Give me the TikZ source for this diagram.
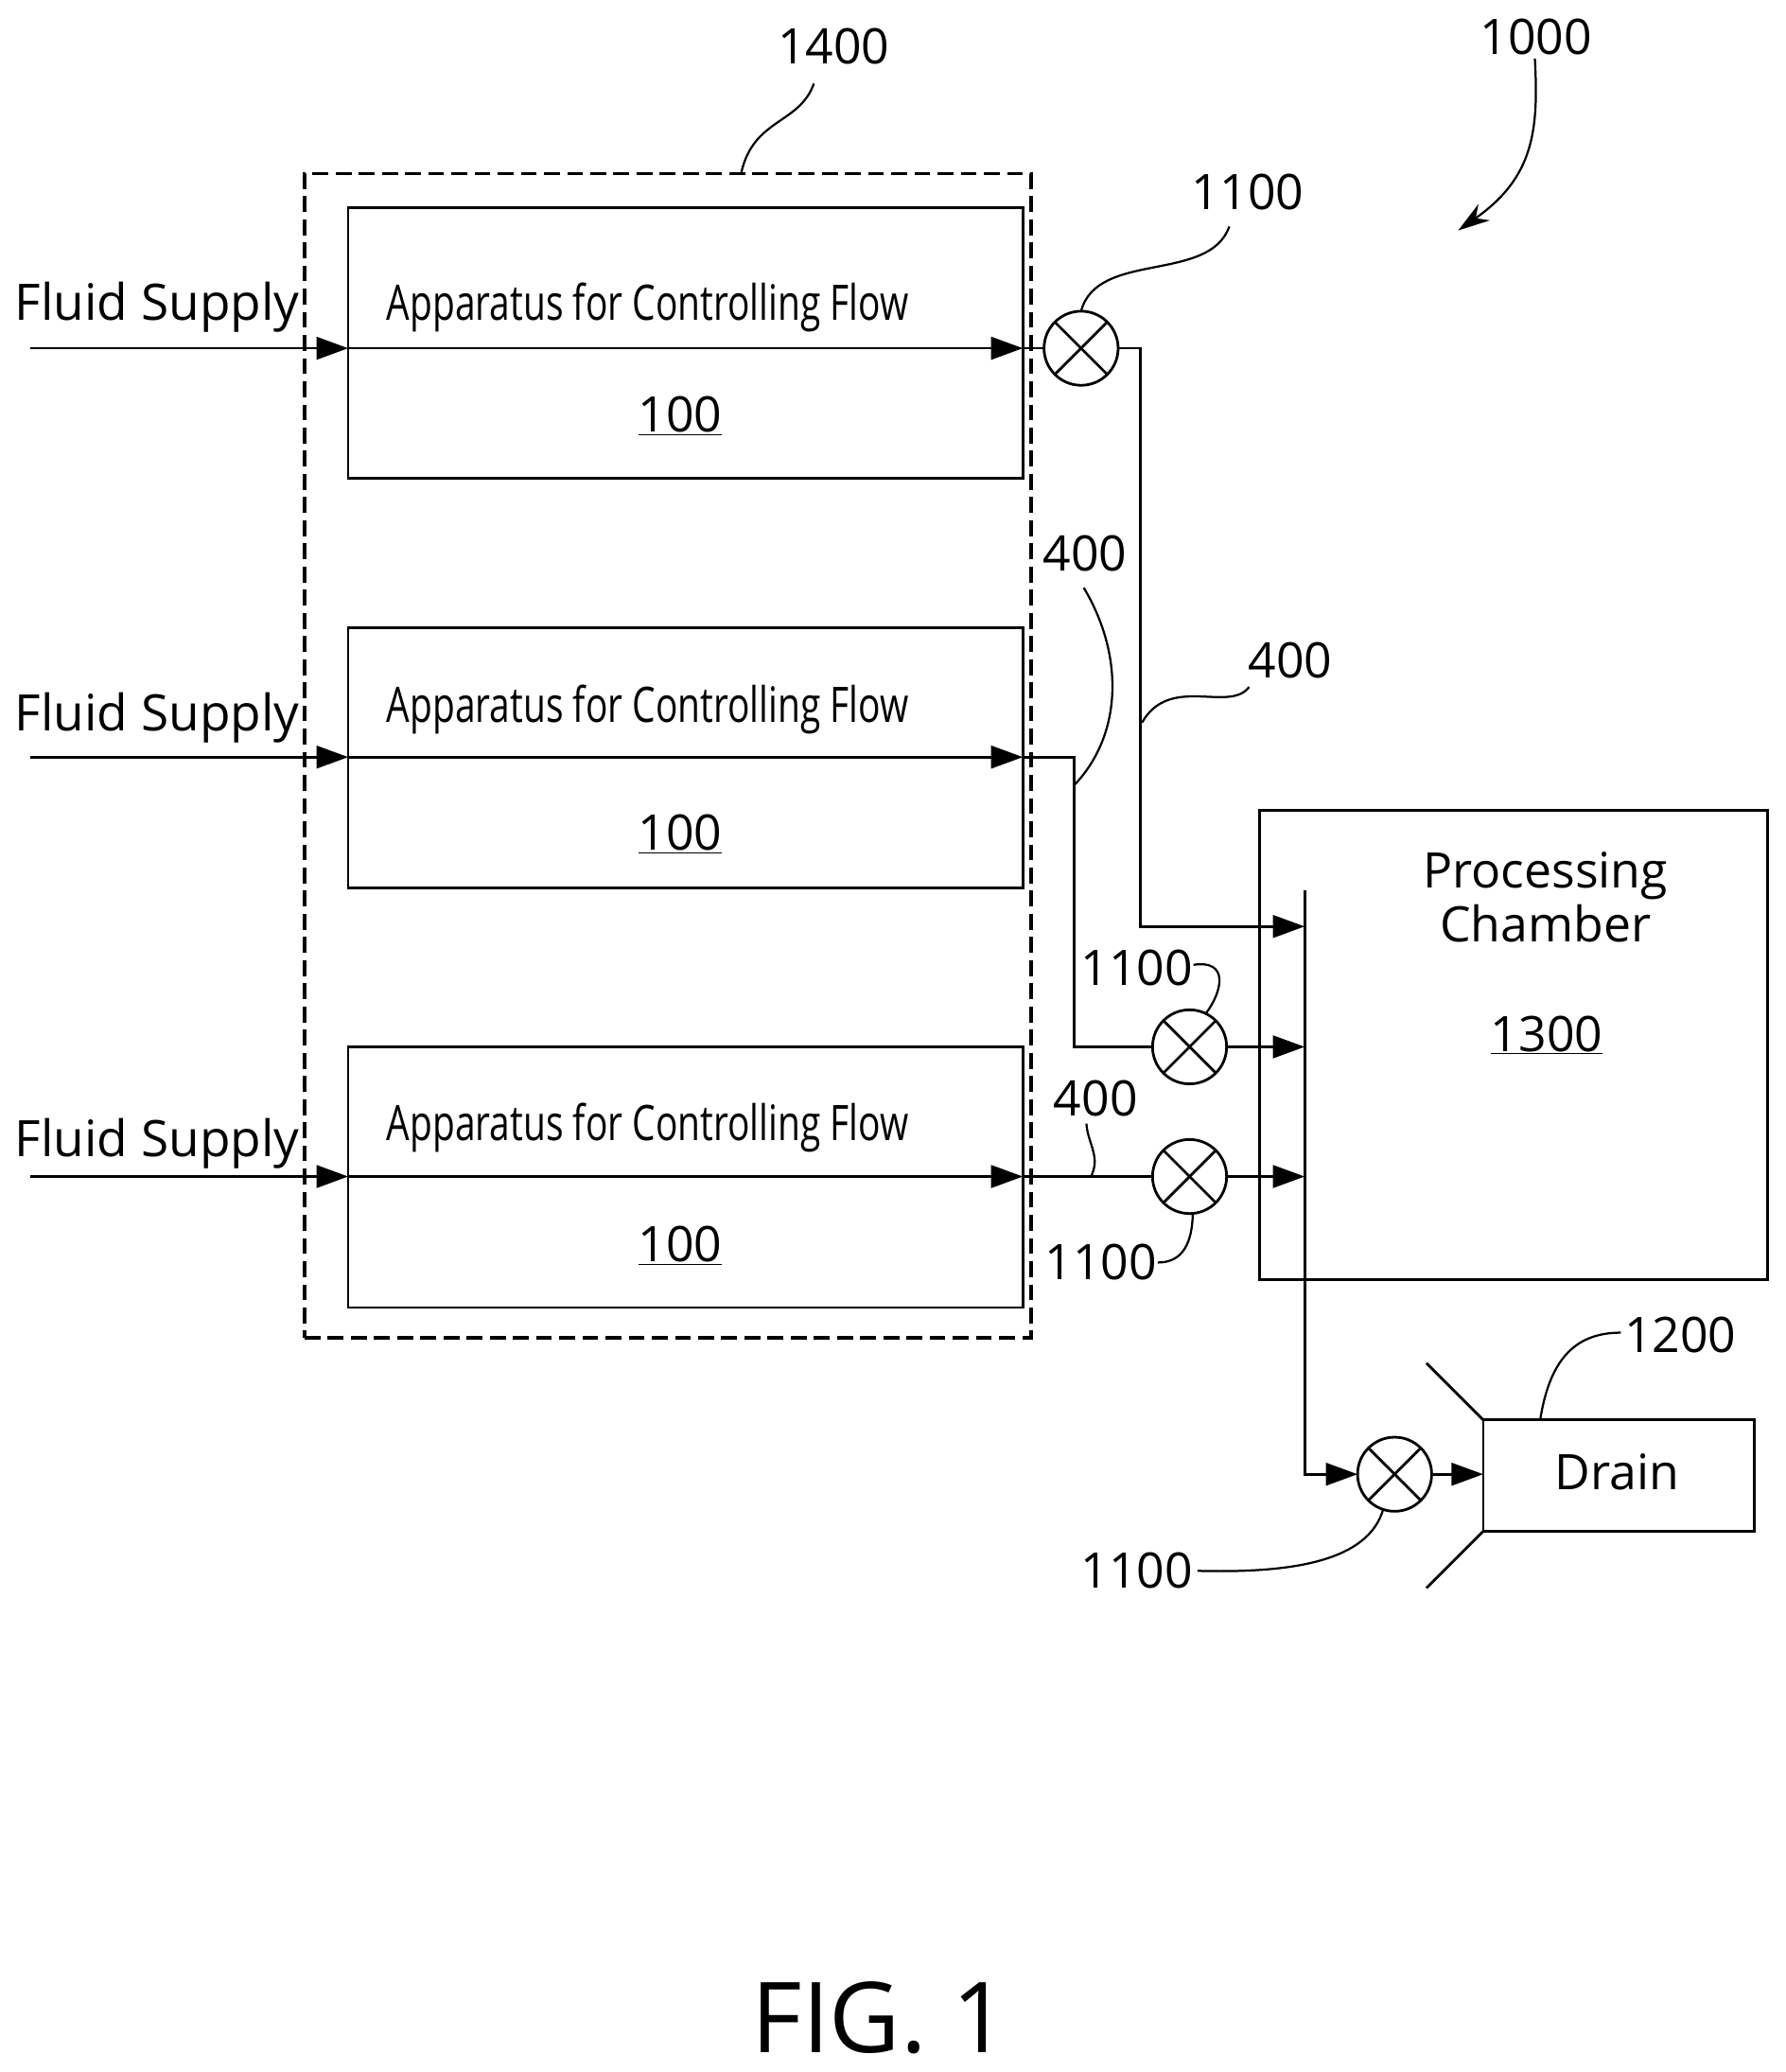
\documentclass[tikz,border=0pt]{standalone}
\usepackage{fontspec}
\setmainfont{Open Sans}
\usetikzlibrary{arrows.meta}

\tikzset{
  boxnode/.style={draw, line width=2pt, inner sep=0pt, outer sep=0pt},
  flow/.style={line width=2pt, -{Triangle[length=24pt,width=17pt]}},
  pipe/.style={line width=2pt},
  leader/.style={line width=1.6pt},
  valve/.style={circle, draw, line width=2pt, minimum size=56pt, inner sep=0pt, outer sep=0pt,
    path picture={
      \draw[line width=2pt] (path picture bounding box.north west) -- (path picture bounding box.south east);
      \draw[line width=2pt] (path picture bounding box.north east) -- (path picture bounding box.south west);
    }},
  numlabel/.style={font=\fontsize{37}{37}\selectfont, inner sep=0pt},
  supply/.style={font=\fontsize{38}{38}\selectfont, inner sep=0pt, anchor=base west},
  apparatus/.style={font=\fontsize{37}{37}\selectfont, inner sep=0pt, anchor=base west},
}
\newcommand{\apptext}{\scalebox{0.752}[1]{Apparatus for Controlling Flow}}

\begin{document}
\begin{tikzpicture}[x=1pt,y=-1pt]
  \useasboundingbox (0.8,0.8) rectangle (1350.8,1566.8);

  \node[boxnode, dashed, line width=2.8pt, dash pattern=on 12pt off 5.5pt, minimum width=549pt, minimum height=880pt] (group) at (505.5,572) {};

  % the three apparatus boxes
  \node[boxnode, minimum width=510pt, minimum height=204pt] (boxa) at (519,260) {};
  \node[boxnode, minimum width=510pt, minimum height=197pt] (boxb) at (519,573.5) {};
  \node[boxnode, minimum width=510pt, minimum height=197pt] (boxc) at (519,890.5) {};

  \node[supply] (supplya) at (12,243) {Fluid Supply};
  \node[supply] (supplyb) at (12,553) {Fluid Supply};
  \node[supply] (supplyc) at (12,875) {Fluid Supply};

  \node[apparatus] (appa) at (293,243) {\apptext};
  \node[apparatus] (appb) at (293,547) {\apptext};
  \node[apparatus] (appc) at (293,863) {\apptext};

  \node[numlabel] (numa) at (515,315) {\underline{100}};
  \node[numlabel] (numb) at (515,631) {\underline{100}};
  \node[numlabel] (numc) at (515,942) {\underline{100}};

  % chamber and drain
  \node[boxnode, minimum width=384pt, minimum height=355pt] (chamber) at (1145,790.5) {};
  \node[numlabel, align=center] (chambertext) at (1169,679) {Processing\\[4pt]Chamber};
  \node[numlabel] (chambernum) at (1170,783) {\underline{1300}};
  \node[boxnode, minimum width=205pt, minimum height=84pt] (drain) at (1224.5,1116) {};
  \node[numlabel] (draintext) at (1223,1113) {Drain};

  \node[valve] (valvea) at (818,264) {};
  \node[valve] (valveb) at (900,792) {};
  \node[valve] (valvec) at (900,890) {};
  \node[valve] (valved) at (1055,1115) {};

  \coordinate (ina) at (24,264);
  \coordinate (inb) at (24,573);
  \coordinate (inc) at (24,890);
  \coordinate (lefta) at (264,264);
  \coordinate (leftb) at (264,573);
  \coordinate (leftc) at (264,890);
  \coordinate (righta) at (774,264);
  \coordinate (rightb) at (774,573);
  \coordinate (rightc) at (774,890);
  \coordinate (bustop) at (987,674);
  \coordinate (busa) at (987,701);
  \coordinate (busb) at (987,792);
  \coordinate (busc) at (987,890);

  \draw[flow] (ina) -- (lefta);
  \draw[flow] (inb) -- (leftb);
  \draw[flow] (inc) -- (leftc);
  \draw[flow] (lefta) -- (righta);
  \draw[flow] (leftb) -- (rightb);
  \draw[flow] (leftc) -- (rightc);

  \draw[pipe] (righta) -- (valvea);
  \draw[flow] (valvea.east) -- (863,264) -- (863,701) -- (busa);
  \draw[pipe] (rightb) -- (813,573) -- (813,792) -- (valveb.west);
  \draw[flow] (valveb) -- (busb);
  \draw[pipe] (rightc) -- (valvec);
  \draw[flow] (valvec) -- (busc);
  \draw[flow] (bustop) -- (987,1115) -- (valved.west);
  \draw[flow] (valved) -- (drain.west |- valved);

  \coordinate (funnela) at (1079,1031);
  \coordinate (funnelb) at (1079,1201);
  \draw[pipe] (drain.north west) -- (funnela);
  \draw[pipe] (drain.south west) -- (funnelb);

  % reference numbers
  \node[numlabel] (lbgroup) at (631,36) {1400};
  \node[numlabel] (lbsystem) at (1162,29) {1000};
  \node[numlabel] (lbvalvea) at (944,146) {1100};
  \node[numlabel] (lbpipeb) at (821,419) {400};
  \node[numlabel] (lbpipea) at (976,500) {400};
  \node[numlabel] (lbvalveb) at (860,732) {1100};
  \node[numlabel] (lbpipec) at (829,831) {400};
  \node[numlabel] (lbvalvec) at (833,955) {1100};
  \node[numlabel] (lbdrain) at (1271,1010) {1200};
  \node[numlabel] (lbvalved) at (860,1188) {1100};
  \node[font=\fontsize{74}{74}\selectfont, inner sep=0pt] (figlabel) at (666,1526) {FIG. 1};

  \coordinate (leadsys) at (1103,175);
  \coordinate (leadpipeb) at (813,594);
  \coordinate (leadpipea) at (864,547);
  \coordinate (leadpipec) at (825.5,890);

  \draw[leader] (616,64) .. controls (605,95) and (570,90) .. (561,132);
  \draw[leader, -{Stealth[length=24pt,width=15pt]}] (1161,45) .. controls (1164,100) and (1160,135) .. (leadsys);
  \draw[leader] (930,172) .. controls (915,215) and (830,190) .. (valvea.north);
  \draw[leader] (820,445) .. controls (850,495) and (850,555) .. (leadpipeb);
  \draw[leader] (945,520) .. controls (930,540) and (885,510) .. (leadpipea);
  \draw[leader] (903,730) .. controls (930,726) and (925,750) .. (valveb.64);
  \draw[leader] (822,850) .. controls (823,865) and (833,875) .. (leadpipec);
  \draw[leader] (876,955) .. controls (895,955) and (902,940) .. (valvec.-85);
  \draw[leader] (1226,1008) .. controls (1190,1008) and (1172,1030) .. (1165,1074);
  \draw[leader] (906,1188) .. controls (980,1190) and (1035,1180) .. (valved.252);
\end{tikzpicture}
\end{document}
